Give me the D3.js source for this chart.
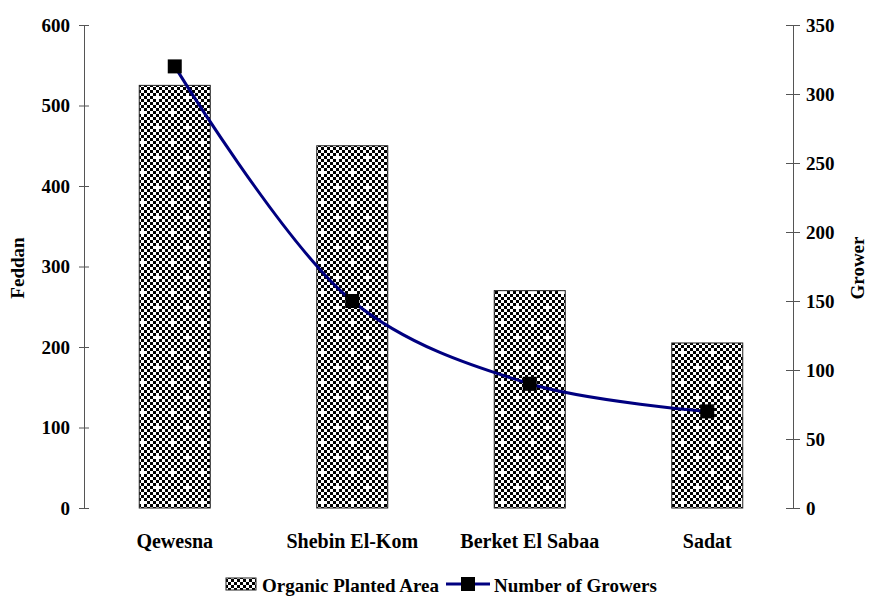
<!DOCTYPE html>
<html>
<head>
<meta charset="utf-8">
<script src="https://cdn.jsdelivr.net/npm/d3@7"></script>
<style>
  html, body { margin: 0; padding: 0; background: #fff; }
  svg { display: block; }
  svg text { font-family: "Liberation Serif", "Times New Roman", Times, serif !important; font-weight: bold; fill: #000; }
</style>
</head>
<body>
<svg id="chart" width="870" height="598"></svg>
<script>
const categories = ["Qewesna", "Shebin El-Kom", "Berket El Sabaa", "Sadat"];
const areaValues = [525, 450, 270, 205];      // Feddan (left axis)
const growerValues = [320, 150, 90, 70];      // Grower (right axis)
const leftTicks = [0, 100, 200, 300, 400, 500, 600];
const rightTicks = [0, 50, 100, 150, 200, 250, 300, 350];
const seriesNames = ["Organic Planted Area", "Number of Growers"];

const FONT = "'Liberation Serif', 'Times New Roman', Times, serif";
const svg = d3.select("#chart");
const yTop = 25, yBottom = 508;
const leftAxisX = 84, rightAxisX = 793;

// Checkerboard pattern with white crosses
const defs = svg.append("defs");
const cell = 3, n = 10;
const pat = defs.append("pattern")
  .attr("id", "checker")
  .attr("patternUnits", "userSpaceOnUse")
  .attr("width", cell * n).attr("height", cell * n);
pat.append("rect").attr("width", cell * n).attr("height", cell * n).attr("fill", "#fff");
const crossCenters = [[2, 2], [7, 7]];
for (let i = 0; i < n; i++) {
  for (let j = 0; j < n; j++) {
    if ((i + j) % 2 !== 0) continue;
    if (crossCenters.some(([ci, cj]) => ci === i && cj === j)) continue;
    pat.append("rect").attr("x", i * cell).attr("y", j * cell)
      .attr("width", cell).attr("height", cell).attr("fill", "#000");
  }
}

const x = d3.scaleBand().domain(categories).range([86, 796]).padding(0);
const barW = x.bandwidth() * 0.4;
const yL = d3.scaleLinear().domain([0, 600]).range([yBottom, yTop]);
const yR = d3.scaleLinear().domain([0, 350]).range([yBottom, yTop]);

// Bars
svg.append("g").selectAll("rect").data(categories).join("rect")
  .attr("x", d => x(d) + x.bandwidth() / 2 - barW / 2)
  .attr("y", (d, i) => yL(areaValues[i]))
  .attr("width", barW)
  .attr("height", (d, i) => yBottom - yL(areaValues[i]))
  .attr("fill", "url(#checker)")
  .attr("stroke", "#222")
  .attr("stroke-width", 1);

// Left axis
const axL = d3.axisLeft(yL).tickValues(leftTicks).tickSizeInner(5).tickSizeOuter(0).tickPadding(9);
const gL = svg.append("g").attr("transform", `translate(${leftAxisX},0)`).call(axL)
  .attr("font-family", FONT).attr("font-size", 19).attr("font-weight", "bold");
gL.selectAll(".tick line").attr("x1", -5).attr("x2", 5).attr("stroke", "#555");
gL.select(".domain").attr("stroke", "#555");
gL.selectAll(".tick text").attr("x", -14);

// Right axis
const axR = d3.axisRight(yR).tickValues(rightTicks).tickSizeInner(7).tickSizeOuter(0).tickPadding(9);
const gR = svg.append("g").attr("transform", `translate(${rightAxisX},0)`).call(axR)
  .attr("font-family", FONT).attr("font-size", 19).attr("font-weight", "bold");
gR.selectAll(".tick line").attr("x1", -7).attr("x2", 7).attr("stroke", "#555");
gR.select(".domain").attr("stroke", "#555");
gR.selectAll(".tick text").attr("x", 13);

// Category labels
svg.append("g").selectAll("text").data(categories).join("text")
  .attr("x", d => x(d) + x.bandwidth() / 2)
  .attr("y", 548)
  .attr("text-anchor", "middle")
  .attr("font-size", 20)
  .text(d => d);

// Axis titles
svg.append("text")
  .attr("transform", "translate(24,268) rotate(-90)")
  .attr("text-anchor", "middle")
  .attr("font-size", 19)
  .text("Feddan");
svg.append("text")
  .attr("transform", "translate(864,268) rotate(-90)")
  .attr("text-anchor", "middle")
  .attr("font-size", 19)
  .text("Grower");

// Line
const pts = categories.map((c, i) => [x(c) + x.bandwidth() / 2, yR(growerValues[i])]);
svg.append("path")
  .attr("d", d3.line().curve(d3.curveCatmullRom.alpha(0.5))(pts))
  .attr("fill", "none")
  .attr("stroke", "#000080")
  .attr("stroke-width", 3);
svg.append("g").selectAll("rect").data(pts).join("rect")
  .attr("x", d => d[0] - 7).attr("y", d => d[1] - 7)
  .attr("width", 14).attr("height", 14)
  .attr("fill", "#000");

// Legend
const lg = svg.append("g");
lg.append("rect").attr("x", 226).attr("y", 578).attr("width", 30).attr("height", 12)
  .attr("fill", "url(#checker)").attr("stroke", "#222").attr("stroke-width", 1);
lg.append("text").attr("x", 262).attr("y", 592).attr("font-size", 19).text(seriesNames[0]);
lg.append("line").attr("x1", 446).attr("x2", 490).attr("y1", 584).attr("y2", 584)
  .attr("stroke", "#000080").attr("stroke-width", 3);
lg.append("rect").attr("x", 461).attr("y", 577).attr("width", 14).attr("height", 14).attr("fill", "#000");
lg.append("text").attr("x", 494).attr("y", 592).attr("font-size", 19).text(seriesNames[1]);
</script>
</body>
</html>
